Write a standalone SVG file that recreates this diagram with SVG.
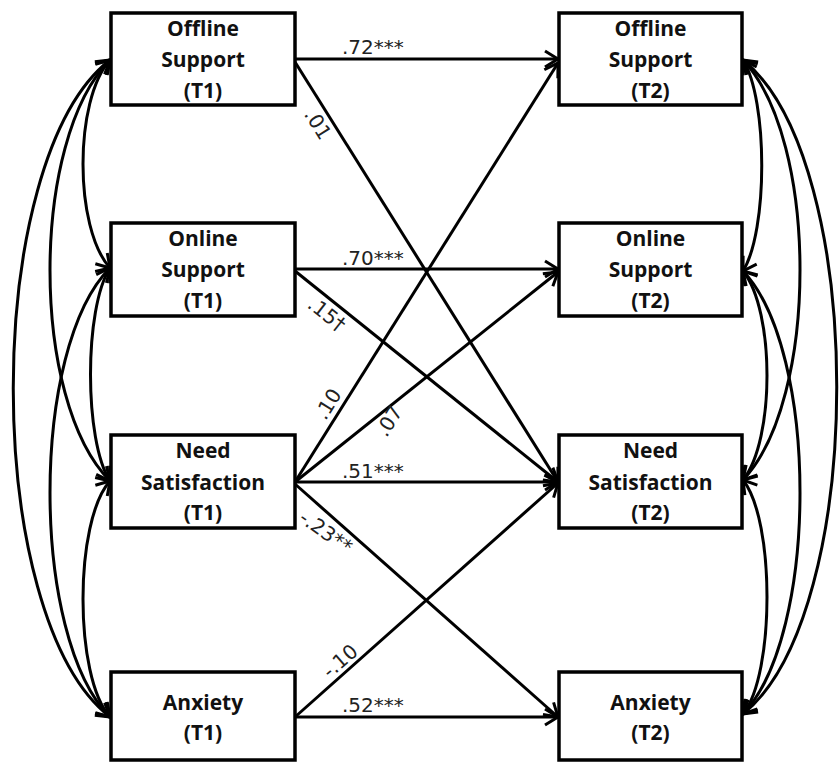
<svg xmlns="http://www.w3.org/2000/svg" width="840" height="763" viewBox="0 0 840 763">
  <style>
    .box { fill: #fff; stroke: #000; stroke-width: 3.5; }
    .nt { font-family: "Open Sans", "Liberation Sans", sans-serif; font-weight: bold; font-size: 21px; text-anchor: middle; fill: #111; }
    .ln { fill: none; stroke: #000; stroke-width: 3; marker-end: url(#ah); }
    .cv { fill: none; stroke: #000; stroke-width: 3; marker-start: url(#ah); marker-end: url(#ah); }
    .lb { font-family: "DejaVu Sans", "Liberation Sans", sans-serif; font-size: 20px; fill: #222; }
    .lbc { font-family: "DejaVu Sans", "Liberation Sans", sans-serif; font-size: 20px; fill: #222; text-anchor: middle; }
  </style>
  <defs>
    <marker id="ah" viewBox="-16 -10 18 20" markerWidth="18" markerHeight="20" refX="0" refY="0" orient="auto-start-reverse" markerUnits="userSpaceOnUse">
      <path d="M-13,-8 L0,0 L-13,8" fill="none" stroke="#000" stroke-width="3"/>
    </marker>
  </defs>
  <rect width="840" height="763" fill="#fff"/>

  <g id="connectors">
    <!-- regression paths -->
    <path class="ln" d="M295,59 L558,59"/>
    <path class="ln" d="M295,62 L558,482"/>
    <path class="ln" d="M295,269 L558,269"/>
    <path class="ln" d="M295,271 L558,482"/>
    <path class="ln" d="M295,482 L558,63"/>
    <path class="ln" d="M295,482 L558,272"/>
    <path class="ln" d="M295,482 L558,482"/>
    <path class="ln" d="M295,484 L558,717"/>
    <path class="ln" d="M295,717 L558,717"/>
    <path class="ln" d="M295,717 L558,483"/>
    <!-- left covariances -->
    <path class="cv" d="M110,60 C74,100 74,228 110,268"/>
    <path class="cv" d="M110,268 C84,308 84,441 110,481"/>
    <path class="cv" d="M110,481 C74,521 74,677 110,717"/>
    <path class="cv" d="M110,60 C30,140 30,401 110,481"/>
    <path class="cv" d="M110,268 C30,348 30,637 110,717"/>
    <path class="cv" d="M110,60 C-19,160 -19,617 110,717"/>
    <!-- right covariances -->
    <path class="cv" d="M743,60 C768,100 768,231 743,271"/>
    <path class="cv" d="M743,271 C775,311 775,440 743,480"/>
    <path class="cv" d="M743,480 C775,520 775,674 743,714"/>
    <path class="cv" d="M743,60 C819,140 819,400 743,480"/>
    <path class="cv" d="M743,271 C819,351 819,634 743,714"/>
    <path class="cv" d="M743,60 C868,160 868,614 743,714"/>
  </g>

  <g id="labels">
    <text class="lb" x="342" y="54">.72***</text>
    <text class="lb" x="342" y="265">.70***</text>
    <text class="lb" x="342" y="478">.51***</text>
    <text class="lb" x="342" y="712">.52***</text>
    <text class="lbc" transform="translate(318,124) rotate(57.8)" y="7">.01</text>
    <text class="lbc" transform="translate(327,314) rotate(38)" y="7">.15†</text>
    <text class="lbc" transform="translate(328,404) rotate(-58)" y="7">.10</text>
    <text class="lbc" transform="translate(389,421) rotate(-58)" y="7">.07</text>
    <text class="lbc" transform="translate(326,532) rotate(35)" y="7">-.23**</text>
    <text class="lbc" transform="translate(340,661) rotate(-41)" y="7">-.10</text>
  </g>

  <g id="offline-t1">
    <rect class="box" x="111" y="13" width="184" height="92"/>
    <text class="nt" x="203" y="36">Offline</text>
    <text class="nt" x="203" y="67">Support</text>
    <text class="nt" x="203" y="98">(T1)</text>
  </g>
  <g id="online-t1">
    <rect class="box" x="111" y="223" width="184" height="93"/>
    <text class="nt" x="203" y="246">Online</text>
    <text class="nt" x="203" y="277">Support</text>
    <text class="nt" x="203" y="308">(T1)</text>
  </g>
  <g id="need-t1">
    <rect class="box" x="111" y="435" width="184" height="93"/>
    <text class="nt" x="203" y="458">Need</text>
    <text class="nt" x="203" y="490">Satisfaction</text>
    <text class="nt" x="203" y="520">(T1)</text>
  </g>
  <g id="anxiety-t1">
    <rect class="box" x="111" y="672" width="184" height="88"/>
    <text class="nt" x="203" y="710">Anxiety</text>
    <text class="nt" x="203" y="740">(T1)</text>
  </g>

  <g id="offline-t2">
    <rect class="box" x="559" y="13" width="183" height="92"/>
    <text class="nt" x="650.5" y="36">Offline</text>
    <text class="nt" x="650.5" y="67">Support</text>
    <text class="nt" x="650.5" y="98">(T2)</text>
  </g>
  <g id="online-t2">
    <rect class="box" x="559" y="223" width="183" height="93"/>
    <text class="nt" x="650.5" y="246">Online</text>
    <text class="nt" x="650.5" y="277">Support</text>
    <text class="nt" x="650.5" y="308">(T2)</text>
  </g>
  <g id="need-t2">
    <rect class="box" x="559" y="435" width="183" height="93"/>
    <text class="nt" x="650.5" y="458">Need</text>
    <text class="nt" x="650.5" y="490">Satisfaction</text>
    <text class="nt" x="650.5" y="520">(T2)</text>
  </g>
  <g id="anxiety-t2">
    <rect class="box" x="559" y="672" width="183" height="88"/>
    <text class="nt" x="650.5" y="710">Anxiety</text>
    <text class="nt" x="650.5" y="740">(T2)</text>
  </g>
</svg>
